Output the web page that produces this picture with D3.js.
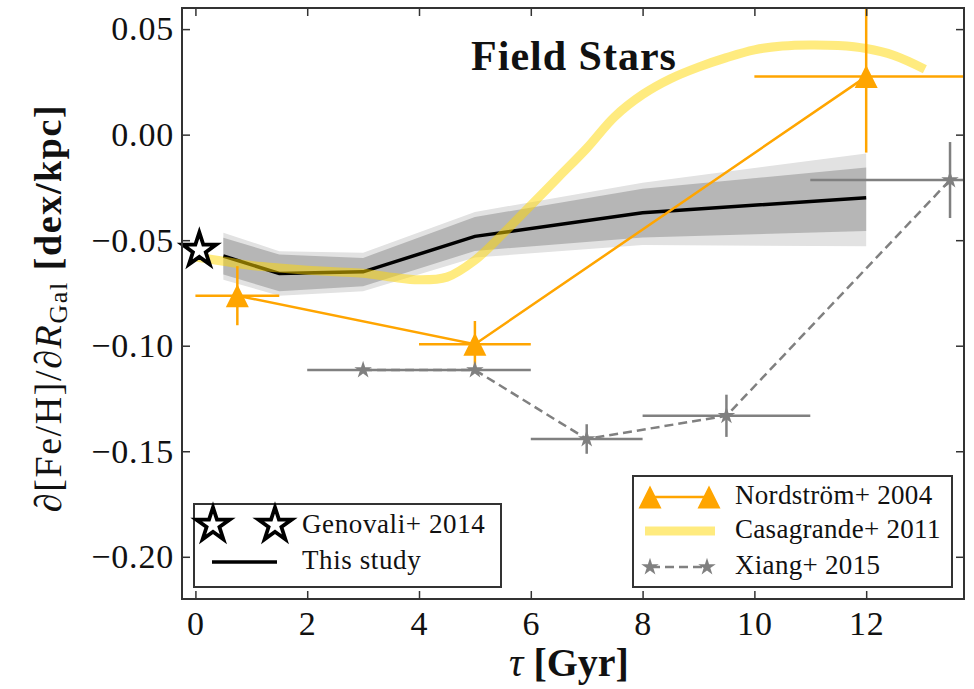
<!DOCTYPE html>
<html>
<head>
<meta charset="utf-8">
<script src="https://cdn.jsdelivr.net/npm/d3@7"></script>
<style>
body{margin:0;background:#fff;}
text{font-family:"Liberation Serif",serif;fill:#111;}
</style>
</head>
<body>
<div id="viz-container"></div>
<script>

// this study (median gradient + 1 and 2 sigma bands)
let studyAge=[0.5,1.5,3,5,8,12];
let studyGrad=[-0.0575,-0.0658,-0.0650,-0.0482,-0.0370,-0.0299];
let study1Lo=[-0.0663,-0.0742,-0.0718,-0.0551,-0.0487,-0.0457];
let study1Hi=[-0.0489,-0.0568,-0.0584,-0.0390,-0.0256,-0.0156];
let study2Lo=[-0.0687,-0.0763,-0.0742,-0.0582,-0.0523,-0.0529];
let study2Hi=[-0.0465,-0.0552,-0.0560,-0.0366,-0.0228,-0.0089];

// Genovali+ 2014 (cepheids)
let genAge=[0.07];
let genGrad=[-0.0547];

// Nordstrom+ 2004
let nordAge=[0.75,5,12];
let nordAgeErr=[0.75,1,2];
let nordGrad=[-0.0763,-0.0993,0.0275];
let nordGradErr=[0.014,0.011,0.036];

// Casagrande+ 2011
let casaAge=[0,0.5,1,1.5,2,2.5,3,3.5,4,4.5,5,5.5,6,6.5,7,7.5,8,8.5,9,9.5,10,10.5,11,11.5,12,12.5,13.05];
let casaGrad=[-0.058,-0.060,-0.062,-0.0632,-0.0642,-0.065,-0.0657,-0.0675,-0.0688,-0.0675,-0.0595,-0.047,-0.0335,-0.020,-0.0065,0.0085,0.019,0.0265,0.032,0.0365,0.0402,0.042,0.0425,0.0422,0.0408,0.0375,0.031];

// Xiang+ 2015
let xiangAge=[3,5,7,9.5,13.5];
let xiangAgeErr=[1,1,1,1.5,2.5];
let xiangGrad=[-0.1115,-0.1115,-0.1442,-0.1332,-0.0215];
let xiangGradErr=[0,0,0.007,0.010,0.018];

let xTicks=[0,2,4,6,8,10,12];
let yTicks=[-0.20,-0.15,-0.10,-0.05,0,0.05];

const W=974, H=689;
const L=182, T=8, R=964, B=599;
const orange="#FFA500", grey="#808080", gold="rgba(255,215,0,0.5)";

let x=d3.scaleLinear().domain([-0.24,13.75]).range([L,R]);
let y=d3.scaleLinear().domain([-0.22,0.06]).range([B,T]);

let viz=d3.select("#viz-container")
            .append("svg")
                .attr("width",W)
                .attr("height",H)
                .style("background-color","white");

viz.append("defs").append("clipPath").attr("id","plotClip")
    .append("rect").attr("x",L).attr("y",T).attr("width",R-L).attr("height",B-T);

let plot=viz.append("g").attr("clip-path","url(#plotClip)");

// bands
let idx=d3.range(studyAge.length);
let band=(lo,hi)=>d3.area()
    .x(i=>x(studyAge[i]))
    .y0(i=>y(lo[i]))
    .y1(i=>y(hi[i]));

plot.append("path").attr("d",band(study2Lo,study2Hi)(idx)).attr("fill","#e2e2e2");
plot.append("path").attr("d",band(study1Lo,study1Hi)(idx)).attr("fill","#b6b6b6");

plot.append("path")
    .attr("d",d3.line().x(i=>x(studyAge[i])).y(i=>y(studyGrad[i]))(idx))
    .attr("fill","none").attr("stroke","black").attr("stroke-width",3.5);

// casagrande
plot.append("path")
    .attr("d",d3.line().curve(d3.curveCatmullRom).x(i=>x(casaAge[i])).y(i=>y(casaGrad[i]))(d3.range(casaAge.length)))
    .attr("fill","none").attr("stroke",gold).attr("stroke-width",9);

// triangle like matplotlib '^'
let tri={draw:function(ctx,size){
    let s=Math.sqrt(size)/2;
    ctx.moveTo(0,-s); ctx.lineTo(s,s); ctx.lineTo(-s,s); ctx.closePath();
}};

function errorBars(g,ages,ageErr,grads,gradErr,col){
    ages.forEach(function(a,i){
        g.append("line")
            .attr("x1",x(a-ageErr[i])).attr("x2",x(a+ageErr[i]))
            .attr("y1",y(grads[i])).attr("y2",y(grads[i]))
            .attr("stroke",col).attr("stroke-width",2.5);
        if(gradErr[i]>0){
            g.append("line")
                .attr("x1",x(a)).attr("x2",x(a))
                .attr("y1",y(grads[i]-gradErr[i])).attr("y2",y(grads[i]+gradErr[i]))
                .attr("stroke",col).attr("stroke-width",2.5);
        }
    });
}

// nordstrom
let nIdx=d3.range(nordAge.length);
errorBars(plot,nordAge,nordAgeErr,nordGrad,nordGradErr,orange);
plot.append("path")
    .attr("d",d3.line().x(i=>x(nordAge[i])).y(i=>y(nordGrad[i]))(nIdx))
    .attr("fill","none").attr("stroke",orange).attr("stroke-width",2.5);
plot.selectAll(".nordPt").data(nIdx).enter().append("path")
    .attr("class","nordPt")
    .attr("d",d3.symbol().type(tri).size(23*23))
    .attr("fill",orange)
    .attr("transform",i=>"translate("+x(nordAge[i])+","+y(nordGrad[i])+")");

// xiang
let xIdx=d3.range(xiangAge.length);
errorBars(plot,xiangAge,xiangAgeErr,xiangGrad,xiangGradErr,grey);
plot.append("path")
    .attr("d",d3.line().x(i=>x(xiangAge[i])).y(i=>y(xiangGrad[i]))(xIdx))
    .attr("fill","none").attr("stroke",grey).attr("stroke-width",2.5).attr("stroke-dasharray","9,5");
plot.selectAll(".xiangPt").data(xIdx).enter().append("path")
    .attr("class","xiangPt")
    .attr("d",d3.symbol().type(d3.symbolStar).size(95))
    .attr("fill",grey)
    .attr("transform",i=>"translate("+x(xiangAge[i])+","+y(xiangGrad[i])+")");

// genovali star
let bigStar=d3.symbol().type(d3.symbolStar).size(350);
viz.selectAll(".genPt").data(genAge).enter().append("path")
    .attr("class","genPt")
    .attr("d",bigStar)
    .attr("fill","white").attr("stroke","black").attr("stroke-width",3.8)
    .attr("stroke-linejoin","miter")
    .attr("transform",(d,i)=>"translate("+x(d)+","+y(genGrad[i])+")");

// axes, ticks inside on all sides
let fmt=d3.format(".2f");
let ax=viz.append("g").attr("class","axes");
ax.append("g").attr("transform","translate(0,"+B+")")
    .call(d3.axisBottom(x).tickValues(xTicks).tickSize(-8).tickPadding(12).tickFormat(d3.format("d")));
ax.append("g").attr("transform","translate(0,"+T+")")
    .call(d3.axisTop(x).tickValues(xTicks).tickSize(-8).tickFormat(""));
ax.append("g").attr("transform","translate("+L+",0)")
    .call(d3.axisLeft(y).tickValues(yTicks).tickSize(-8).tickPadding(8).tickFormat(fmt));
ax.append("g").attr("transform","translate("+R+",0)")
    .call(d3.axisRight(y).tickValues(yTicks).tickSize(-8).tickFormat(""));
ax.selectAll(".domain").remove();
ax.selectAll(".tick line").attr("stroke","#333").attr("stroke-width",1.5);
ax.selectAll(".tick text").attr("font-family","Liberation Serif").attr("font-size",34)
    .attr("fill","#333").attr("letter-spacing",0.8);

viz.append("rect").attr("x",L).attr("y",T).attr("width",R-L).attr("height",B-T)
    .attr("fill","none").attr("stroke","#333").attr("stroke-width",2);

// title
viz.append("text").text("Field Stars")
    .attr("x",574).attr("y",70)
    .attr("text-anchor","middle").attr("font-weight","bold").attr("font-size",42)
    .attr("letter-spacing",1);

// axis labels
let xl=viz.append("text").attr("x",569).attr("y",676).attr("text-anchor","middle").attr("font-size",40);
xl.append("tspan").text("τ").attr("font-style","italic");
xl.append("tspan").text(" [Gyr]").attr("font-weight","bold");

let yl=viz.append("text").attr("transform","translate(61,308) rotate(-90)")
    .attr("text-anchor","middle").attr("font-size",38).attr("letter-spacing",1.6);
yl.append("tspan").text("∂[Fe/H]/∂");
yl.append("tspan").text("R").attr("font-style","italic");
yl.append("tspan").text("Gal").attr("font-size",26).attr("dy",6);
yl.append("tspan").text(" [dex/kpc]").attr("font-weight","bold").attr("dy",-6);

// legend 1
let leg1=viz.append("g");
leg1.append("rect").attr("x",194).attr("y",504).attr("width",307).attr("height",83)
    .attr("fill","white").attr("stroke","#333").attr("stroke-width",2);
leg1.selectAll(".legStar").data([213,275]).enter().append("path")
    .attr("class","legStar")
    .attr("d",bigStar)
    .attr("fill","white").attr("stroke","black").attr("stroke-width",3.8)
    .attr("transform",d=>"translate("+d+",525)");
leg1.append("line").attr("x1",212).attr("x2",277).attr("y1",562).attr("y2",562)
    .attr("stroke","black").attr("stroke-width",3.5);
leg1.append("text").text("Genovali+ 2014").attr("x",302).attr("y",533).attr("font-size",27).attr("letter-spacing",0.6);
leg1.append("text").text("This study").attr("x",302).attr("y",569).attr("font-size",27).attr("letter-spacing",0.6);

// legend 2
let leg2=viz.append("g");
leg2.append("rect").attr("x",633).attr("y",476).attr("width",319).attr("height",111)
    .attr("fill","white").attr("stroke","#333").attr("stroke-width",2);
leg2.append("line").attr("x1",650).attr("x2",709).attr("y1",497).attr("y2",497)
    .attr("stroke",orange).attr("stroke-width",2.5);
leg2.selectAll(".legTri").data([650,709]).enter().append("path")
    .attr("d",d3.symbol().type(tri).size(23*23))
    .attr("fill",orange)
    .attr("transform",d=>"translate("+d+",497)");
leg2.append("line").attr("x1",645).attr("x2",715).attr("y1",531).attr("y2",531)
    .attr("stroke",gold).attr("stroke-width",9);
leg2.append("line").attr("x1",650).attr("x2",707).attr("y1",567).attr("y2",567)
    .attr("stroke",grey).attr("stroke-width",2.5).attr("stroke-dasharray","9,5").attr("stroke-dashoffset",-15);
leg2.selectAll(".legXiang").data([650,707]).enter().append("path")
    .attr("d",d3.symbol().type(d3.symbolStar).size(95))
    .attr("fill",grey)
    .attr("transform",d=>"translate("+d+",567)");
leg2.append("text").text("Nordström+ 2004").attr("x",735).attr("y",504).attr("font-size",27).attr("letter-spacing",0.3);
leg2.append("text").text("Casagrande+ 2011").attr("x",735).attr("y",538).attr("font-size",27).attr("letter-spacing",0.3);
leg2.append("text").text("Xiang+ 2015").attr("x",735).attr("y",574).attr("font-size",27).attr("letter-spacing",0.3);

</script>
</body>
</html>
